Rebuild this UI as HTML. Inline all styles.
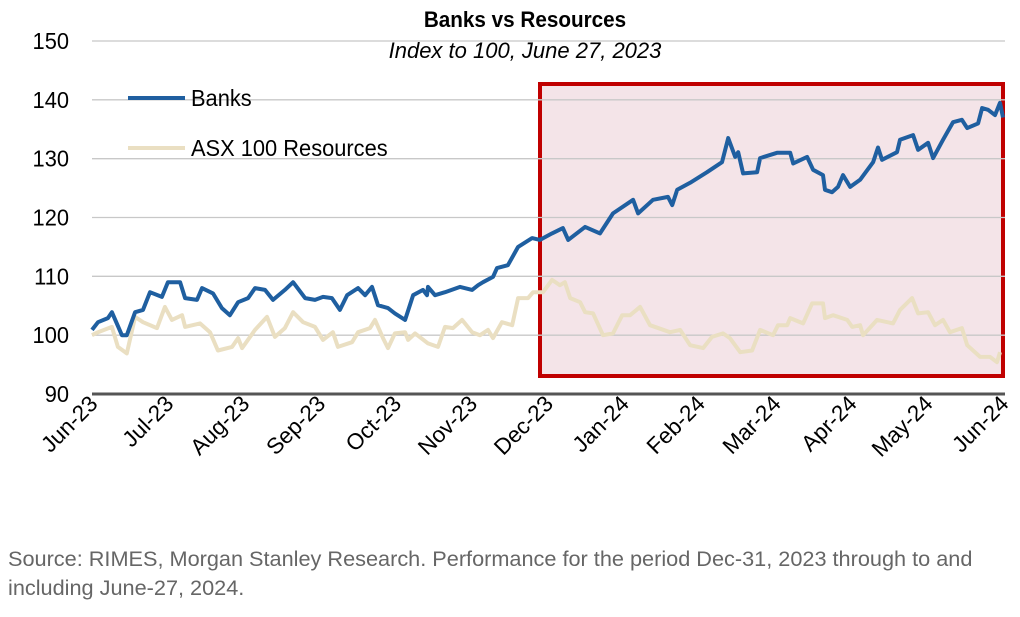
<!DOCTYPE html>
<html><head><meta charset="utf-8"><style>
body{margin:0;background:#fff;width:1020px;height:612px;overflow:hidden;font-family:"Liberation Sans",sans-serif}
svg text{font-family:"Liberation Sans",sans-serif}
</style></head><body>
<svg id="chart" width="1020" height="612" xmlns="http://www.w3.org/2000/svg">
<rect x="540" y="84" width="463" height="292" fill="#f4e4e8" stroke="#c00000" stroke-width="4"/>
<g id="grid"></g><g id="axes"></g><g id="series"></g>
<text x="525" y="27" text-anchor="middle" font-size="22" font-weight="bold" fill="#000" transform="translate(525 0) scale(0.94 1) translate(-525 0)">Banks vs Resources</text>
<text x="525" y="58" text-anchor="middle" font-size="22" font-style="italic" fill="#000" transform="translate(525 0) scale(1.0 1) translate(-525 0)">Index to 100, June 27, 2023</text>
<g>
<line x1="128" y1="98" x2="185" y2="98" stroke="#1f5fa0" stroke-width="4"/>
<text x="191" y="106" font-size="23" fill="#000" transform="translate(191 0) scale(0.95 1) translate(-191 0)">Banks</text>
<line x1="128" y1="148" x2="185" y2="148" stroke="#eadfc2" stroke-width="4"/>
<text x="191" y="156" font-size="23" fill="#000" transform="translate(191 0) scale(0.95 1) translate(-191 0)">ASX 100 Resources</text>
</g>
<text font-size="21.7" fill="#666"><tspan x="8" y="566">Source: RIMES, Morgan Stanley Research. Performance for the period Dec-31, 2023 through to and</tspan><tspan x="8" y="595">including June-27, 2024.</tspan></text>
</svg>
<script>
const yTicks=[90,100,110,120,130,140,150];
const monthLabels=["Jun-23","Jul-23","Aug-23","Sep-23","Oct-23","Nov-23","Dec-23","Jan-24","Feb-24","Mar-24","Apr-24","May-24","Jun-24"];
const banksDays=[0,2.4,6.4,8,12,14,17.3,20.5,23.3,28.1,30.5,35.4,37.4,42.2,44.2,48.6,52.2,55.4,58.7,62.7,65.5,69.5,72.7,77.5,80.8,85.6,89.6,92.8,96.4,99.6,102.5,106.9,109.7,112.5,114.9,118.9,121.7,125.8,129,133,134.6,135,137.8,141.8,147.9,152.7,155.1,157.1,161.1,162.7,167.1,171.2,176.8,180,184.8,189.2,191.3,198.1,204.1,209.3,217.4,219.4,225.4,231.4,233.1,235.1,240.3,247.1,253.1,255.6,258.4,259.6,261.6,267.2,268.4,275.2,280.5,281.7,287.3,289.7,293.7,294.5,297.3,299.7,301.7,304.6,308.6,313.8,315.8,317.4,323.4,324.6,329.9,331.9,335.9,337.9,341.9,345.9,349.5,351.6,356,357.6,360,362.8,364.8,366];
const banksValues=[100.9,102.2,102.9,103.9,100,100,103.9,104.3,107.3,106.5,109,109,106.3,106,108,107.1,104.6,103.4,105.6,106.3,108,107.7,106,107.7,109,106.3,106,106.5,106.3,104.3,106.8,108,106.8,108.2,105.1,104.6,103.7,102.6,106.8,107.7,106.8,108.2,106.8,107.3,108.2,107.7,108.5,109,109.9,111.4,111.9,115,116.5,116.2,117.3,118.2,116.2,118.4,117.3,120.7,123,120.7,123,123.5,122.1,124.7,125.9,127.7,129.4,133.5,130.3,131.1,127.5,127.7,130.1,131,131,129.2,130.3,128.1,127.2,124.7,124.3,125.2,127.2,125.2,126.4,129.4,131.9,129.8,131.1,133.2,134,131.5,132.7,130.1,133.2,136.2,136.6,135.2,136,138.6,138.3,137.4,139.5,137];
const resDays=[0,2.4,8,10.4,14,17.3,20.5,26.1,29.3,32.1,36.2,37.4,43.4,47.4,50.6,56.3,58.7,60.3,65.5,70.3,73.5,77.5,80.8,84.8,89.6,92.8,96.8,98.8,104.5,106.9,111.7,113.7,116.9,118.9,121.7,125.8,127,129.8,135,139,141.8,145,148.7,152.7,155.9,159.1,161.1,164.7,168.8,171.2,175.2,177.2,181.2,184.8,188,190,192.1,196.1,198.1,201.3,205.3,209.3,213,216.2,220.2,224.2,232.2,236.3,240.3,245.5,249.1,253.5,256.3,260.4,265.2,268.4,273.6,275.6,279.3,280.5,285.7,289.3,293.7,294.5,297.7,303.4,305.4,308.6,309.8,315.4,321.8,324.6,329.5,331.9,335.9,338.7,341.9,344.7,349.5,351.6,356.8,360.8,363.6,364.8];
const resValues=[100,100.5,101.4,98,96.9,103.1,102.2,101.2,104.8,102.6,103.4,101.4,102,100.5,97.4,98,99.5,97.8,100.9,103.1,99.7,101.2,103.9,102.2,101.4,99.2,100.5,98,98.8,100.5,101.2,102.6,99.5,97.8,100.3,100.5,99.2,100.3,98.6,98,101.4,101.2,102.6,100.5,100,100.9,99.5,102.2,101.7,106.3,106.3,107.3,107.3,109.4,108.5,109,106.3,105.6,103.9,103.7,100,100.3,103.4,103.4,104.8,101.7,100.5,100.9,98.3,97.8,99.7,100.3,99.5,97.1,97.4,100.9,100,101.7,101.7,102.9,102,105.4,105.4,102.9,103.4,102.6,101.4,101.7,100,102.6,102,104.3,106.3,103.7,103.9,101.7,102.6,100.5,101.2,98.3,96.3,96.3,95.4,97.1];
const X0=92,X1=1003,Y0=394,Y1=41;
const xs=d=>X0+(X1-X0)*d/366;
const ys=v=>Y0-(Y0-Y1)*(v-90)/60;
const NS="http://www.w3.org/2000/svg";
function mk(tag,attrs,parent){const e=document.createElementNS(NS,tag);for(const k in attrs)e.setAttribute(k,attrs[k]);parent.appendChild(e);return e;}
const grid=document.getElementById('grid'),axes=document.getElementById('axes'),series=document.getElementById('series');
yTicks.forEach(v=>{
  if(v>90){const l=mk('line',{x1:X0,x2:1005,y1:ys(v),y2:ys(v),stroke:'#c8c8c8','stroke-width':1.3},grid);
  
  }
  const t=mk('text',{x:69,y:ys(v)+8,'text-anchor':'end','font-size':23,fill:'#000',transform:`translate(69 0) scale(0.95 1) translate(-69 0)`},axes);
  t.textContent=v;
  
  
});
const ax=mk('line',{x1:X0,x2:1005,y1:Y0,y2:Y0,stroke:'#555','stroke-width':3},axes);


monthLabels.forEach((m,i)=>{
  const x=X0+(X1-X0)*i/12+7, y=405;
  const t=mk('text',{x:x,y:y,'text-anchor':'end','font-size':22.5,fill:'#000',transform:`rotate(-45 ${x} ${y})`},axes);
  t.textContent=m;
  
  
});
function path(days,vals,color,name){
  const d=days.map((dd,i)=>(i?'L':'M')+xs(dd).toFixed(1)+' '+ys(vals[i]).toFixed(1)).join(' ');
  const p=mk('path',{d:d,fill:'none',stroke:color,'stroke-width':4,'stroke-linejoin':'round'},series);
  
  
}
path(resDays,resValues,'#eadfc2','resources-line');
path(banksDays,banksValues,'#1f5fa0','banks-line');
</script>
</body></html>
